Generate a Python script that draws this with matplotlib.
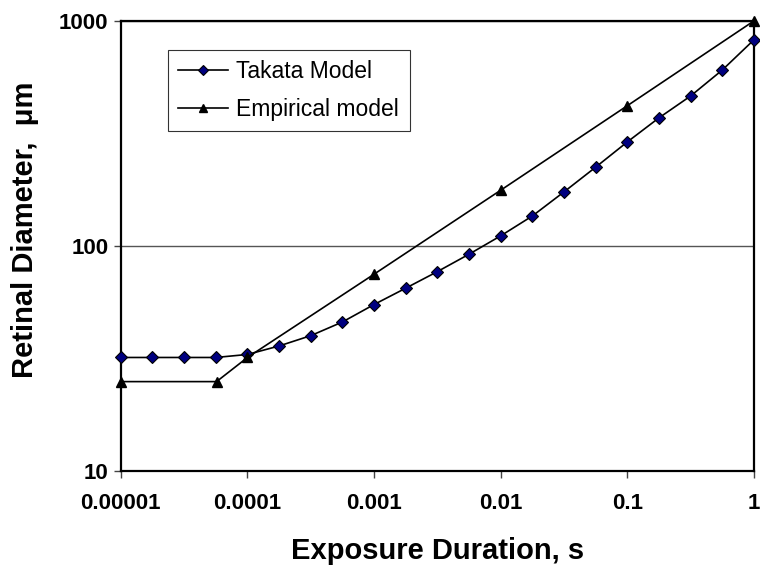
import numpy as np
import matplotlib.pyplot as plt

plt.rcParams['font.family'] = ['Liberation Sans', 'DejaVu Sans']

# Takata model: quarter-decade exposure steps from 1e-5 s to 1 s
takata_t = 10.0 ** (np.arange(21) / 4.0 - 5)
takata_d = [32, 32, 32, 32, 33, 36, 40, 46, 55, 65, 77, 92,
            111, 136, 174, 224, 290, 371, 464, 605, 824]

# Empirical model
emp_t = [1e-5, 5.7e-5, 1e-4, 1e-3, 1e-2, 1e-1, 1]
emp_d = [25, 25, 32, 75, 177, 420, 1000]

fig = plt.figure(figsize=(7.6, 5.65), dpi=100)
ax = fig.add_axes([0.159, 0.166, 0.833, 0.797])

ax.plot(takata_t, takata_d, color='black', lw=1.2, marker='D', ms=6.3,
        mfc='#000080', mec='black', mew=0.8, label='Takata Model',
        zorder=3, clip_on=False)
ax.plot(emp_t, emp_d, color='black', lw=1.2, marker='^', ms=7.8,
        mfc='black', mec='black', label='Empirical model',
        zorder=3, clip_on=False)

ax.set_xscale('log')
ax.set_yscale('log')
ax.set_xlim(1e-5, 1)
ax.set_ylim(10, 1000)

xt = [1e-5, 1e-4, 1e-3, 1e-2, 1e-1, 1]
ax.set_xticks(xt)
ax.set_xticklabels(['0.00001', '0.0001', '0.001', '0.01', '0.1', '1'],
                   fontsize=16, fontweight='bold')
ax.set_yticks([10, 100, 1000])
ax.set_yticklabels(['10', '100', '1000'], fontsize=16, fontweight='bold')
ax.minorticks_off()
ax.tick_params(axis='both', direction='out', length=5, width=1, color='#444444')
ax.tick_params(axis='x', pad=11)
ax.tick_params(axis='y', pad=4)

ax.yaxis.grid(True, color='#555555', lw=1)
ax.set_axisbelow(True)
for s in ax.spines.values():
    s.set_linewidth(1.6)

ax.set_xlabel('Exposure Duration, s', fontsize=21, fontweight='bold', labelpad=16)
ax.set_ylabel('Retinal Diameter,  \u03bcm', fontsize=21, fontweight='bold')
ax.yaxis.set_label_coords(-0.129, 0.535)

leg = ax.legend(loc='upper left', bbox_to_anchor=(0.074, 0.936), borderaxespad=0,
                fontsize=16.5, frameon=True, fancybox=False, edgecolor='black',
                handlelength=2.2, borderpad=0.45, labelspacing=0.65,
                handletextpad=0.35, markerscale=0.75)
leg.get_frame().set_linewidth(0.8)

fig.savefig('out.png', dpi=100)
